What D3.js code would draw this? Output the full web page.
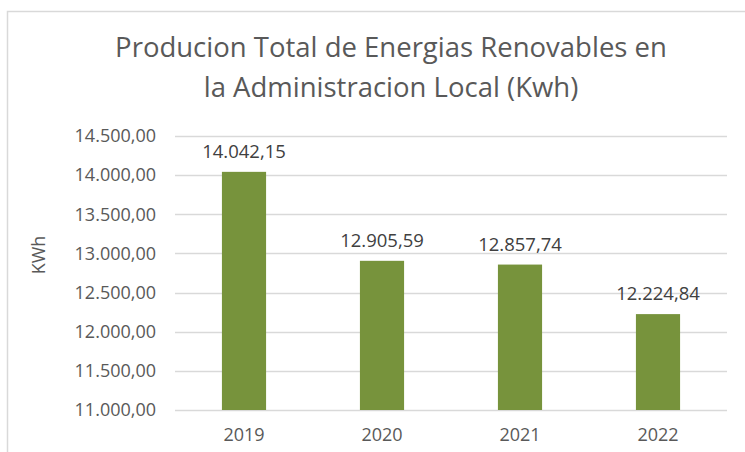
<!DOCTYPE html>
<html>
<head>
<meta charset="utf-8">
<script src="https://cdn.jsdelivr.net/npm/d3@7"></script>
<style>
  body { margin: 0; background: #fff; }
  text { font-family: "Open Sans", "Noto Sans", sans-serif; }
</style>
</head>
<body>
<svg id="chart" width="745" height="452"></svg>
<script>
var years = ["2019", "2020", "2021", "2022"],
    production = [14042.15, 12905.59, 12857.74, 12224.84],
    yTicks = [11000, 11500, 12000, 12500, 13000, 13500, 14000, 14500],
    titleLines = ["Producion Total de Energias Renovables en", "la Administracion Local (Kwh)"]

var svg = d3.select("#chart"),
    margin = {left: 175, right: 18, top: 136, bottom: 42},
    width = 745 - margin.left - margin.right,
    height = 452 - margin.top - margin.bottom

var fmt = d3.formatLocale({decimal: ",", thousands: ".", grouping: [3], currency: ["", ""]}).format(",.2f")

// frame of the chart area
svg.append("path")
    .attr("d", "M7.5,452 V11.5 H745")
    .attr("fill", "none")
    .attr("stroke", "#d9d9d9")
    .attr("stroke-width", 1.5)

svg.append("text")
    .attr("x", 391)
    .attr("y", 57)
    .attr("text-anchor", "middle")
    .attr("fill", "#595959")
    .style("font-size", "27.5px")
    .selectAll("tspan")
    .data(titleLines)
    .join("tspan")
    .attr("x", 391)
    .attr("dy", function(d, i) { return i ? 40 : 0 })
    .text(function(d) { return d })

var x = d3.scaleBand().domain(years).range([0, width]),
    y = d3.scaleLinear().domain([11000, 14500]).range([height, 0])

var g = svg.append("g").attr("transform", "translate(" + margin.left + "," + margin.top + ")")

g.selectAll("line.grid")
    .data(yTicks)
    .join("line")
    .attr("class", "grid")
    .attr("x1", 0)
    .attr("x2", width)
    .attr("y1", function(d) { return Math.round(y(d)) + 0.5 })
    .attr("y2", function(d) { return Math.round(y(d)) + 0.5 })
    .attr("stroke", "#d9d9d9")
    .attr("stroke-width", 1.3)

var yAxis = g.append("g")
    .call(d3.axisLeft(y).tickValues(yTicks).tickFormat(fmt).tickSize(0).tickPadding(19))
yAxis.select(".domain").remove()
yAxis.selectAll("text")
    .attr("fill", "#595959")
    .style("font-size", "18px")
    .style("font-family", "'Open Sans', sans-serif")

var xAxis = g.append("g")
    .attr("transform", "translate(0," + height + ")")
    .call(d3.axisBottom(x).tickSize(0).tickPadding(18))
xAxis.select(".domain").remove()
xAxis.selectAll("text")
    .attr("fill", "#595959")
    .style("font-size", "18px")
    .style("font-family", "'Open Sans', sans-serif")

var barW = x.bandwidth() * 0.32

g.selectAll("rect.bar")
    .data(production)
    .join("rect")
    .attr("class", "bar")
    .attr("x", function(d, i) { return x(years[i]) + (x.bandwidth() - barW) / 2 })
    .attr("y", function(d) { return y(d) })
    .attr("width", barW)
    .attr("height", function(d) { return height - y(d) })
    .attr("fill", "#77933c")

g.selectAll("text.lbl")
    .data(production)
    .join("text")
    .attr("class", "lbl")
    .attr("x", function(d, i) { return x(years[i]) + x.bandwidth() / 2 })
    .attr("y", function(d) { return y(d) - 14 })
    .attr("text-anchor", "middle")
    .attr("fill", "#404040")
    .style("font-size", "18.5px")
    .text(function(d) { return fmt(d) })

svg.append("text")
    .attr("transform", "translate(45,255) rotate(-90)")
    .attr("text-anchor", "middle")
    .attr("fill", "#595959")
    .style("font-size", "18px")
    .text("KWh")
</script>
</body>
</html>
